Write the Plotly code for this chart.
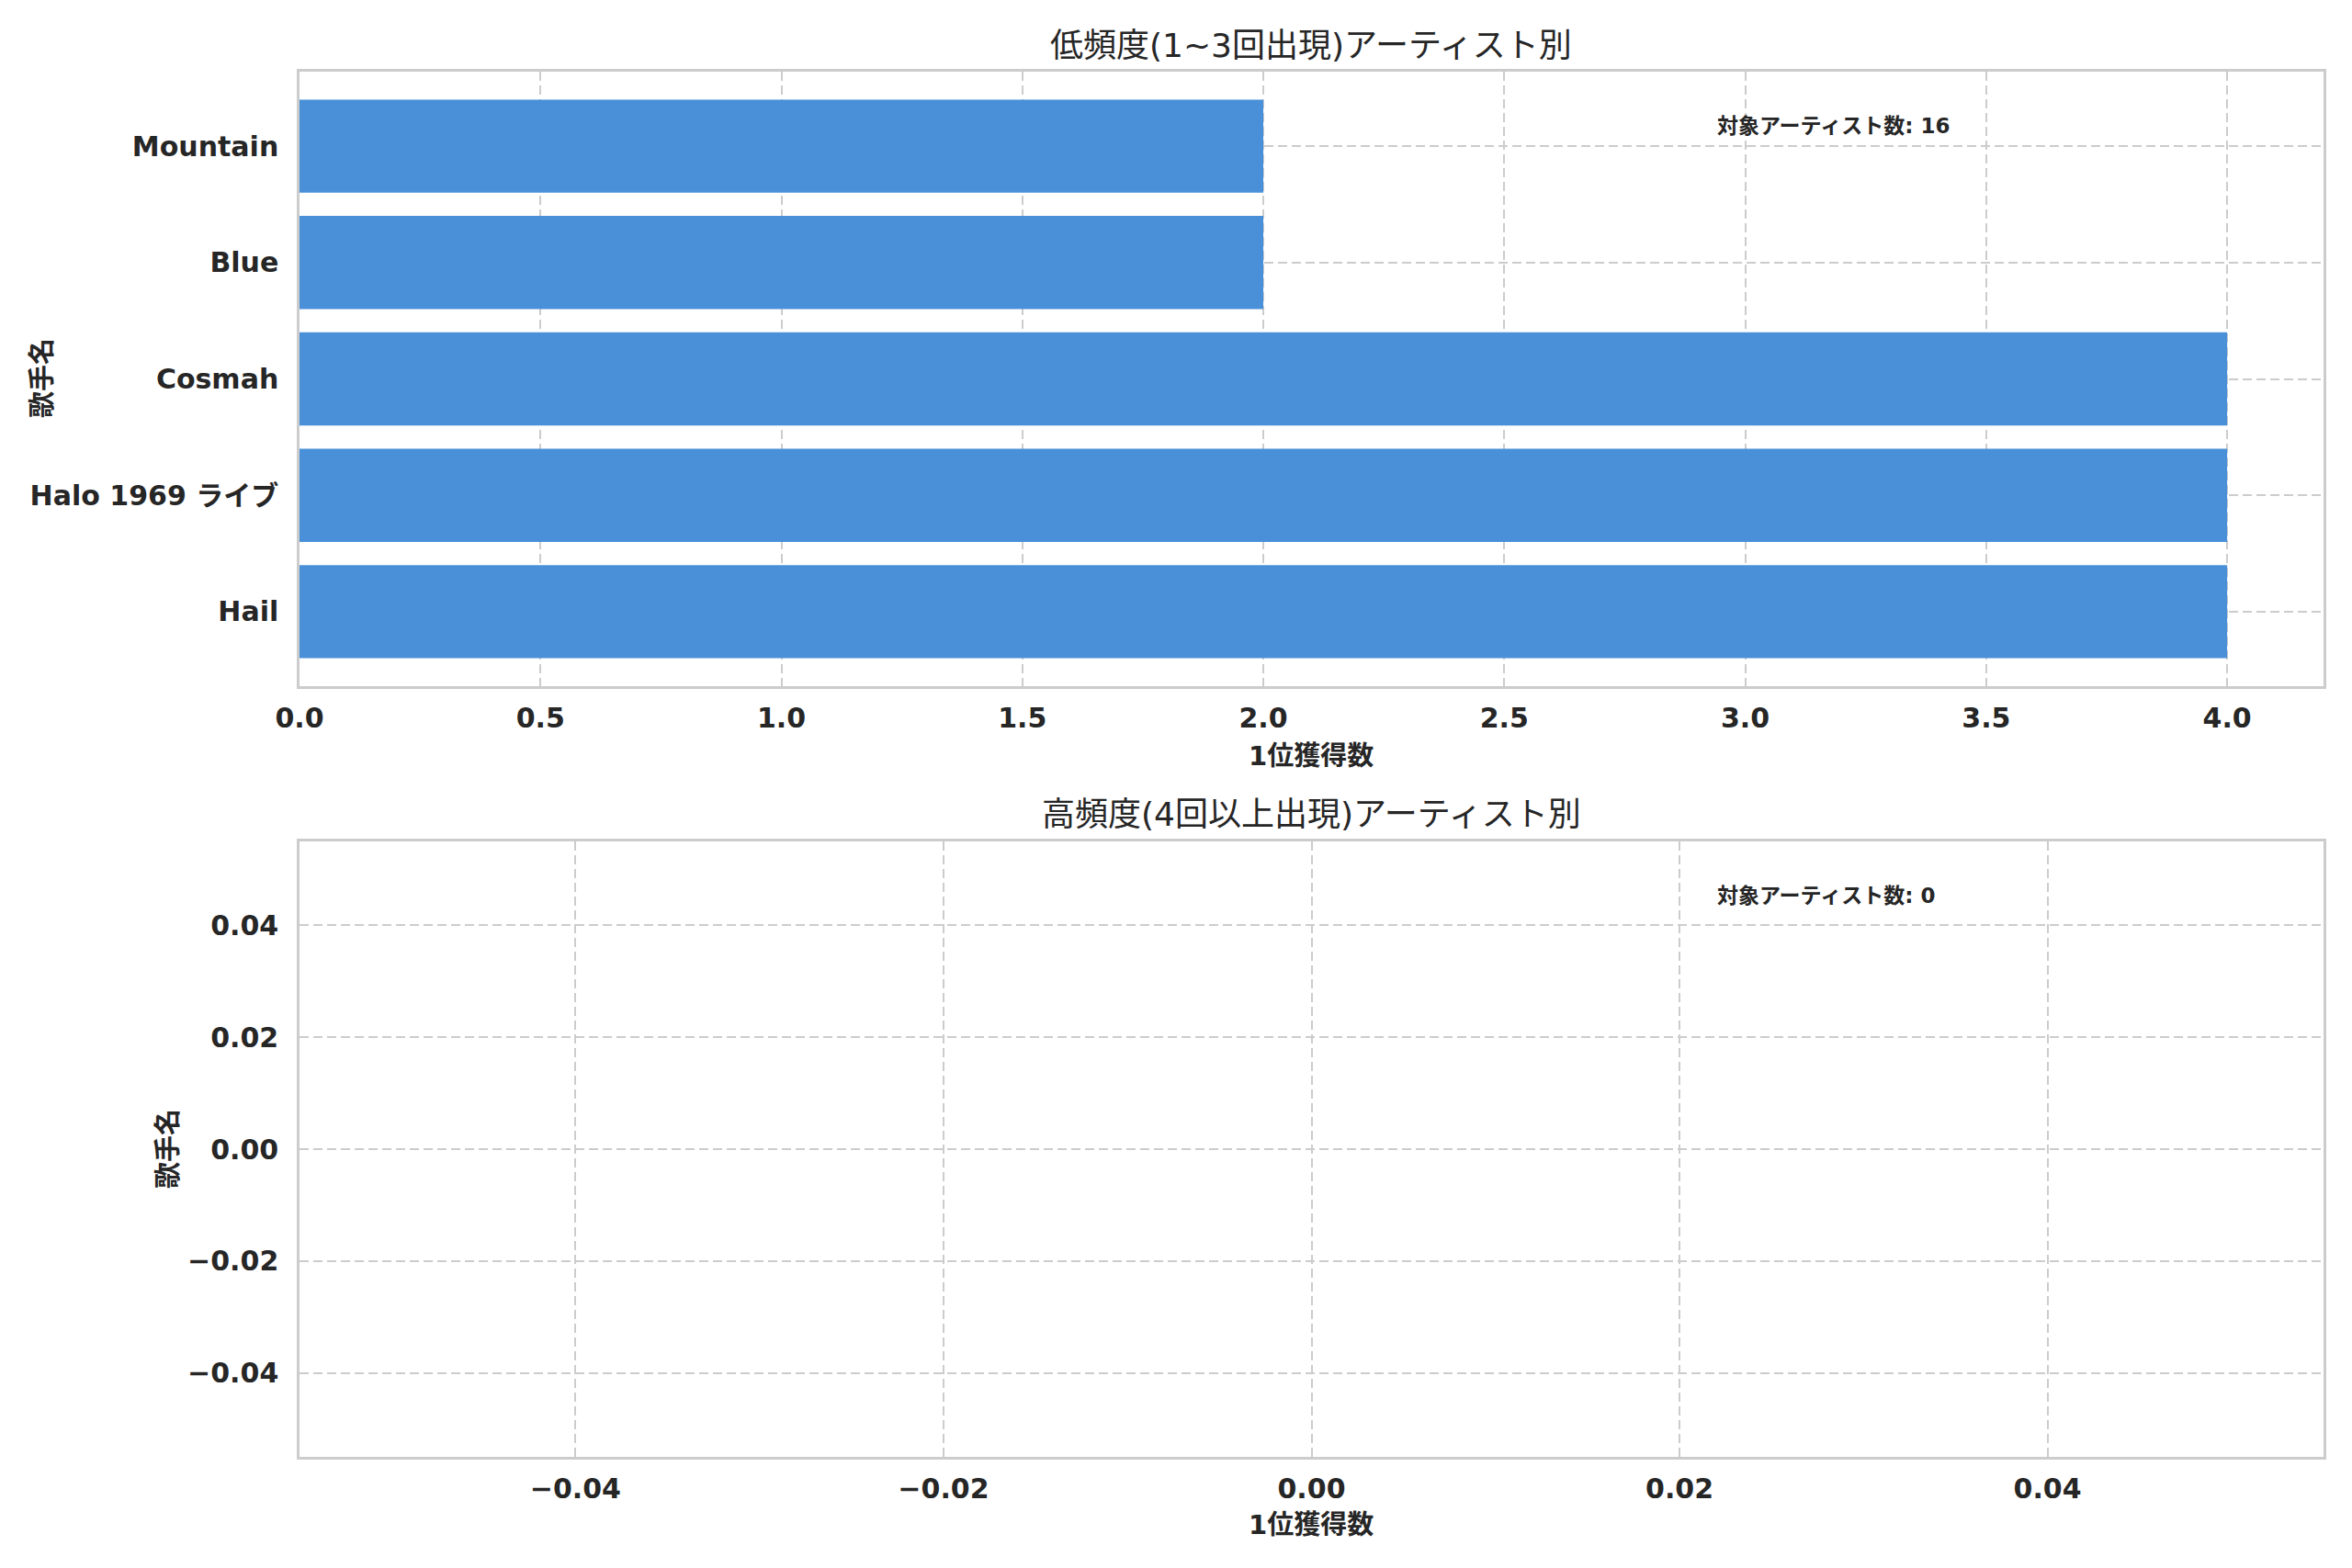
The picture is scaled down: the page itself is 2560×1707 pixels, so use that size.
import plotly.graph_objects as go

# values
artists = ["Hail", "Halo 1969 ライブ", "Cosmah", "Blue", "Mountain"]
wins = [4, 4, 4, 2, 2]
low_total = 16
high_total = 0

title_low = "低頻度(1~3回出現)アーティスト別"
title_high = "高頻度(4回以上出現)アーティスト別"
x_title = "1位獲得数"
y_title = "歌手名"
count_label = "対象アーティスト数"

W, H = 2560, 1707
FONT = "DejaVu Sans, Noto Sans CJK JP, sans-serif"
INK = "#262626"
GRID = "#cccccc"
PAGE = 8  # page body margin in the screenshot


def px(x):
    return (x - PAGE) / W


def py(y):
    return 1 - (y - PAGE) / H


fig = go.Figure()

fig.add_trace(go.Bar(
    x=wins, y=artists, orientation="h", width=0.8,
    marker=dict(color="#4a90d9", line=dict(width=0)),
    xaxis="x", yaxis="y", showlegend=False,
))
# empty second panel
fig.add_trace(go.Scatter(x=[], y=[], xaxis="x2", yaxis="y2", showlegend=False))

axis_common = dict(
    showgrid=True, gridcolor=GRID, gridwidth=2, griddash="10px,5px",
    showline=True, linecolor=GRID, linewidth=2.5, mirror=True,
    ticks="", zeroline=False, automargin=False,
    tickfont=dict(family=FONT, size=30, color=INK, weight="bold"),
)
xstand = dict(ticklabelstandoff=6)
ystand = dict(ticklabelstandoff=14)

fig.update_layout(
    width=W, height=H,
    margin=dict(l=0, r=0, t=0, b=0),
    paper_bgcolor="white", plot_bgcolor="white",
    font=dict(family=FONT, color=INK),
    xaxis=dict(axis_common, **xstand, domain=[px(326), px(2529)], anchor="y",
               range=[0, 4.2], tickvals=[0, 0.5, 1, 1.5, 2, 2.5, 3, 3.5, 4],
               tickformat=".1f"),
    yaxis=dict(axis_common, **ystand, domain=[py(747), py(78)], anchor="x",
               range=[-0.64, 4.64], type="category"),
    xaxis2=dict(axis_common, **xstand, domain=[px(326), px(2529)], anchor="y2",
                range=[-0.055, 0.055], tickvals=[-0.04, -0.02, 0, 0.02, 0.04],
                tickformat=".2f"),
    yaxis2=dict(axis_common, **ystand, domain=[py(1586), py(916)], anchor="x2",
                range=[-0.055, 0.055], tickvals=[-0.04, -0.02, 0, 0.02, 0.04],
                tickformat=".2f"),
)

texts = [
    (title_low, px(1427), py(49), 36, "normal", "center", 0),
    (title_high, px(1427), py(887), 36, "normal", "center", 0),
    (x_title, px(1427), py(823), 29, "bold", "center", 0),
    (x_title, px(1427), py(1660), 29, "bold", "center", 0),
    (y_title, px(46), py(412), 29, "bold", "center", -90),
    (y_title, px(183), py(1251), 29, "bold", "center", -90),
    (f"{count_label}: {low_total}", px(1867), py(137), 23, "bold", "left", 0),
    (f"{count_label}: {high_total}", px(1867), py(975), 23, "bold", "left", 0),
]
for t, x, y, size, weight, xa, ang in texts:
    fig.add_annotation(
        text=t, x=x, y=y, xref="paper", yref="paper",
        xanchor=xa, yanchor="middle", showarrow=False, textangle=ang,
        font=dict(family=FONT, size=size, color=INK, weight=weight),
    )

fig.write_html("out.html")
